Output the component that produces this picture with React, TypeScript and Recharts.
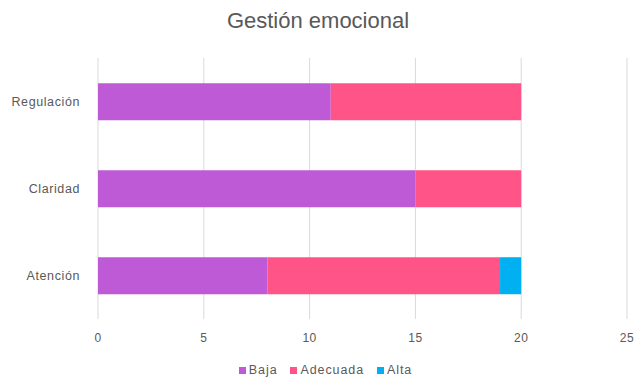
import React from 'react';
import { BarChart, Bar, XAxis, YAxis, CartesianGrid, Legend } from 'recharts';

const categories = ['Regulación', 'Claridad', 'Atención'];
const baja = [11, 15, 8];
const adecuada = [9, 5, 11];
const alta = [0, 0, 1];
const xTicks = [0, 5, 10, 15, 20, 25];
const seriesNames = ['Baja', 'Adecuada', 'Alta'];
const seriesColors = ['#BF5AD6', '#FF5487', '#00B0F0'];

const data = categories.map((name, i) => ({ name, Baja: baja[i], Adecuada: adecuada[i], Alta: alta[i] }));

const FONT = '"Liberation Sans", Arial, sans-serif';
const GREY = '#595959';

const LegendContent = () => (
  <div style={{ display: 'flex', justifyContent: 'center', alignItems: 'center', paddingLeft: 24, fontSize: 12.5, fontFamily: FONT, letterSpacing: 0.9, color: GREY }}>
    {seriesNames.map((n, i) => (
      <div key={n} style={{ display: 'flex', alignItems: 'center', marginRight: i < seriesNames.length - 1 ? 13 : 0 }}>
        <span style={{ display: 'inline-block', width: 7, height: 7, background: seriesColors[i], marginRight: 3 }} />
        <span>{n}</span>
      </div>
    ))}
  </div>
);

export default function App() {
  return (
    <div style={{ position: 'absolute', left: 0, top: 0, width: 636, height: 379, background: '#fff', fontFamily: FONT }}>
      <div style={{ position: 'absolute', left: 0, top: 8, width: 636, textAlign: 'center', fontSize: 22, color: GREY }}>
        Gestión emocional
      </div>
      <BarChart
        width={636}
        height={379}
        data={data}
        layout="vertical"
        margin={{ top: 58, right: 9, bottom: 12, left: 0 }}
        barCategoryGap="29%"
      >
        <CartesianGrid horizontal={false} stroke="#d9d9d9" strokeWidth={1} />
        <XAxis
          type="number"
          domain={[0, 25]}
          ticks={xTicks}
          axisLine={false}
          tickLine={false}
          tickMargin={8}
          height={30}
          tick={{ fill: GREY, fontSize: 12, fontFamily: FONT, letterSpacing: 0.5 }}
          interval={0}
        />
        <YAxis
          type="category"
          dataKey="name"
          width={98}
          axisLine={false}
          tickLine={false}
          tickMargin={12}
          tick={{ fill: GREY, fontSize: 12.5, fontFamily: FONT, letterSpacing: 0.6 }}
        />
        <Legend verticalAlign="bottom" height={18} wrapperStyle={{ bottom: -2 }} content={<LegendContent />} />
        {seriesNames.map((n, i) => (
          <Bar key={n} dataKey={n} stackId="a" fill={seriesColors[i]} isAnimationActive={false} />
        ))}
      </BarChart>
    </div>
  );
}
